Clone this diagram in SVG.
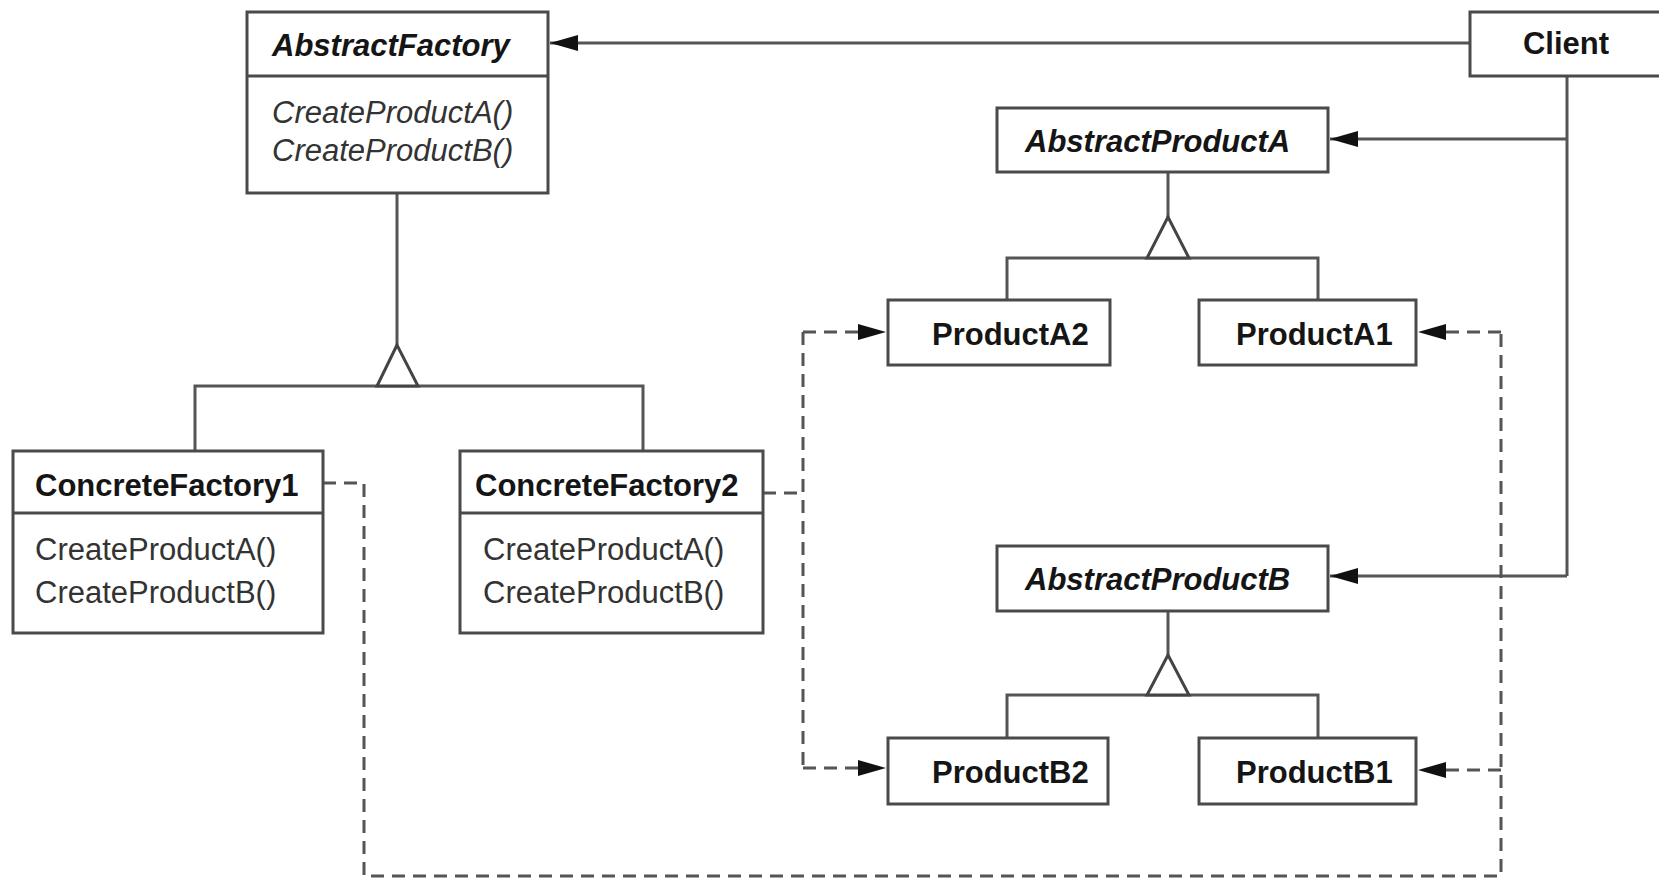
<svg xmlns="http://www.w3.org/2000/svg" width="1659" height="879" viewBox="0 0 1659 879">
<style>
.box{fill:#fff;stroke:#4a4a4a;stroke-width:3}
.ln{fill:none;stroke:#555;stroke-width:3}
.dl{fill:none;stroke:#555;stroke-width:3;stroke-dasharray:13 8}
.tri{fill:#fff;stroke:#444;stroke-width:3;stroke-linejoin:miter}
text{font-family:"Liberation Sans",Arial,sans-serif;font-size:31px;fill:#151515}
.b{font-weight:bold}
.bi{font-weight:bold;font-style:italic}
.i{font-style:italic;fill:#333}
.r{fill:#333}
</style>
<defs>
<marker id="arr" markerUnits="userSpaceOnUse" viewBox="0 0 28 18" markerWidth="28" markerHeight="18" refX="28" refY="9" orient="auto">
<path d="M0,1 L28,9 L0,17 z" fill="#111"/>
</marker>
</defs>
<g id="connectors">
<path class="ln" d="M1470,43 H550" marker-end="url(#arr)"/>
<path class="ln" d="M1567,76 V576"/>
<path class="ln" d="M1567,139 H1330" marker-end="url(#arr)"/>
<path class="ln" d="M1567,576 H1330" marker-end="url(#arr)"/>
<path class="ln" d="M397,193 V345"/>
<path class="ln" d="M195,451 V386 H643 V451"/>
<polygon class="tri" points="397,345 377,386 418,386"/>
<path class="ln" d="M1168,172 V217"/>
<path class="ln" d="M1007,300 V258 H1318 V300"/>
<polygon class="tri" points="1168,217 1147,258 1189,258"/>
<path class="ln" d="M1168,611 V655"/>
<path class="ln" d="M1007,738 V695 H1318 V738"/>
<polygon class="tri" points="1168,655 1147,695 1189,695"/>
<path class="dl" d="M323,483 H364 V876 H1501 V332"/>
<path class="dl" d="M1501,332 H1418" marker-end="url(#arr)"/>
<path class="dl" d="M1501,770 H1418" marker-end="url(#arr)"/>
<path class="dl" d="M763,493 H803"/>
<path class="dl" d="M803,332 V768"/>
<path class="dl" d="M803,332 H886" marker-end="url(#arr)"/>
<path class="dl" d="M803,768 H886" marker-end="url(#arr)"/>
</g>
<g id="AbstractFactory">
<rect class="box" x="247" y="12" width="301" height="181"/>
<line class="box" x1="247" y1="76" x2="548" y2="76"/>
<text class="bi" x="272" y="56">AbstractFactory</text>
<text class="i" x="272" y="123">CreateProductA()</text>
<text class="i" x="272" y="161">CreateProductB()</text>
</g>
<g id="Client">
<rect class="box" x="1470" y="12" width="220" height="64"/>
<text class="b" x="1566" y="54" text-anchor="middle">Client</text>
</g>
<g id="AbstractProductA">
<rect class="box" x="997" y="108" width="331" height="64"/>
<text class="bi" x="1025" y="152">AbstractProductA</text>
</g>
<g id="ProductA2">
<rect class="box" x="888" y="300" width="222" height="65"/>
<text class="b" x="932" y="345">ProductA2</text>
</g>
<g id="ProductA1">
<rect class="box" x="1199" y="300" width="217" height="65"/>
<text class="b" x="1236" y="345">ProductA1</text>
</g>
<g id="AbstractProductB">
<rect class="box" x="997" y="546" width="331" height="65"/>
<text class="bi" x="1025" y="590">AbstractProductB</text>
</g>
<g id="ProductB2">
<rect class="box" x="888" y="738" width="220" height="66"/>
<text class="b" x="932" y="783">ProductB2</text>
</g>
<g id="ProductB1">
<rect class="box" x="1199" y="738" width="217" height="66"/>
<text class="b" x="1236" y="783">ProductB1</text>
</g>
<g id="ConcreteFactory1">
<rect class="box" x="13" y="451" width="310" height="182"/>
<line class="box" x1="13" y1="513" x2="323" y2="513"/>
<text class="b" x="35" y="496">ConcreteFactory1</text>
<text class="r" x="35" y="560">CreateProductA()</text>
<text class="r" x="35" y="603">CreateProductB()</text>
</g>
<g id="ConcreteFactory2">
<rect class="box" x="460" y="451" width="303" height="182"/>
<line class="box" x1="460" y1="513" x2="763" y2="513"/>
<text class="b" x="475" y="496">ConcreteFactory2</text>
<text class="r" x="483" y="560">CreateProductA()</text>
<text class="r" x="483" y="603">CreateProductB()</text>
</g>
</svg>
